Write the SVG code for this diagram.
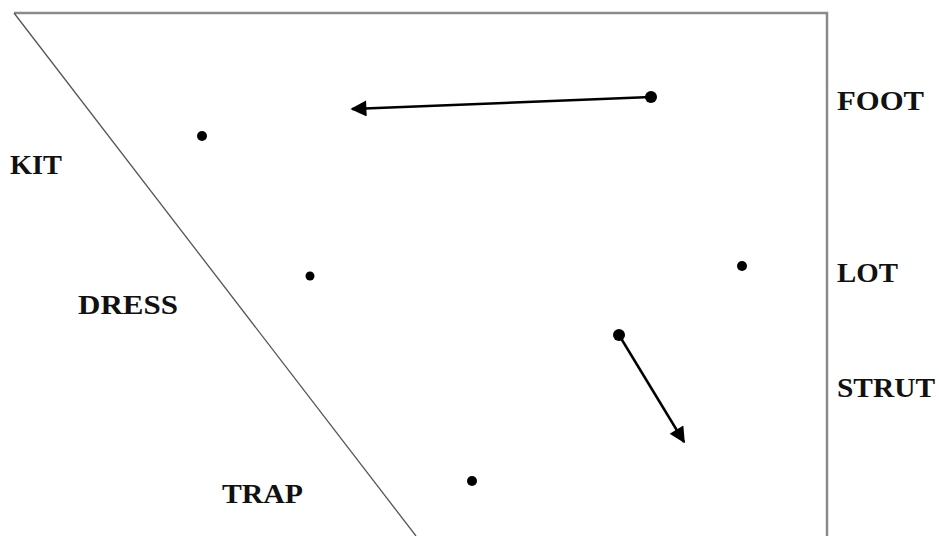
<svg xmlns="http://www.w3.org/2000/svg" width="939" height="536" viewBox="0 0 939 536">
<style>
.lbl{font-family:"Liberation Serif","Times New Roman",serif;font-weight:bold;font-size:28px;fill:#111}
.frame{fill:none;stroke:#8a8a8a;stroke-width:2.5}
.diag{fill:none;stroke:#555;stroke-width:1.3}
.arr{fill:none;stroke:#000;stroke-width:2.5}
.dot{fill:#000}
</style>
<defs>
<marker id="ah" viewBox="0 0 10 10" refX="9" refY="5" markerWidth="7" markerHeight="7" markerUnits="userSpaceOnUse" orient="auto">
<path d="M0,0 L10,5 L0,10 z" fill="#000"/>
</marker>
<marker id="ah2" viewBox="0 0 10 10" refX="9" refY="5" markerWidth="18" markerHeight="16" markerUnits="userSpaceOnUse" orient="auto">
<path d="M0,0 L10,5 L0,10 z" fill="#000"/>
</marker>
</defs>
<rect width="939" height="536" fill="#fff"/>
<g id="frame">
<polyline class="frame" points="14,13 827,13 827,536"/>
<line class="diag" x1="14" y1="13" x2="416" y2="536"/>
</g>
<g id="connectors">
<line class="arr" x1="651" y1="97" x2="352" y2="109" marker-end="url(#ah2)"/>
<line class="arr" x1="619" y1="335" x2="684" y2="442" marker-end="url(#ah2)"/>
</g>
<g id="dots">
<circle class="dot" cx="651" cy="97" r="6"/>
<circle class="dot" cx="619" cy="335" r="6"/>
<circle class="dot" cx="202" cy="136" r="5"/>
<circle class="dot" cx="310" cy="276" r="4.5"/>
<circle class="dot" cx="742" cy="266" r="5"/>
<circle class="dot" cx="472" cy="481" r="5"/>
</g>
<g id="labels">
<text id="kit" class="lbl" x="10" y="174" textLength="52" lengthAdjust="spacingAndGlyphs">KIT</text>
<text id="dress" class="lbl" x="78" y="314" textLength="100" lengthAdjust="spacingAndGlyphs">DRESS</text>
<text id="trap" class="lbl" x="222" y="503" textLength="81" lengthAdjust="spacingAndGlyphs">TRAP</text>
<text id="foot" class="lbl" x="837" y="110" textLength="87" lengthAdjust="spacingAndGlyphs">FOOT</text>
<text id="lot" class="lbl" x="837" y="282" textLength="61" lengthAdjust="spacingAndGlyphs">LOT</text>
<text id="strut" class="lbl" x="837" y="397" textLength="98" lengthAdjust="spacingAndGlyphs">STRUT</text>
</g>
</svg>
